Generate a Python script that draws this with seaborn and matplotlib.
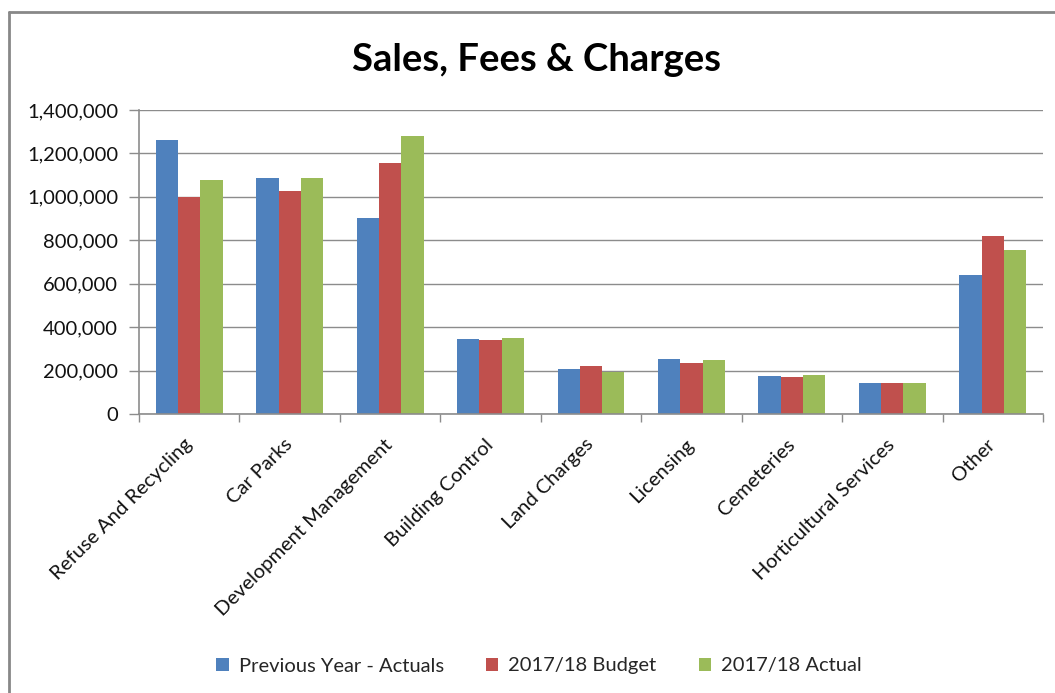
import matplotlib
matplotlib.use("Agg")
import matplotlib.pyplot as plt
from matplotlib.lines import Line2D
from matplotlib.patches import Patch
from matplotlib.ticker import FuncFormatter, FixedLocator
import numpy as np
import pandas as pd
import seaborn as sns

categories = [
    "Refuse And Recycling", "Car Parks", "Development Management",
    "Building Control", "Land Charges", "Licensing", "Cemeteries",
    "Horticultural Services", "Other",
]
series_names = ["Previous Year - Actuals", "2017/18 Budget", "2017/18 Actual"]
previous_actuals = [1260000, 1087000, 902000, 347000, 209000, 255000, 174000, 143000, 640000]
budget_2017 = [1000000, 1027000, 1154000, 342000, 220000, 235000, 169000, 143000, 818000]
actual_2017 = [1076000, 1087000, 1280000, 351000, 194000, 249000, 179000, 144000, 757000]
colors = ["#4F81BD", "#C0504D", "#9BBB59"]
yticks = [0, 200000, 400000, 600000, 800000, 1000000, 1200000, 1400000]

df = pd.DataFrame({
    "Category": categories * 3,
    "Series": [series_names[0]] * 9 + [series_names[1]] * 9 + [series_names[2]] * 9,
    "Value": previous_actuals + budget_2017 + actual_2017,
})

sns.set_theme(style="white")
plt.rcParams["font.family"] = ["Lato", "DejaVu Sans"]

fig = plt.figure(figsize=(10.55, 6.93), dpi=100)
ax = fig.add_axes([139 / 1055, 1 - 414 / 693, (1043 - 139) / 1055, (414 - 110) / 693])

sns.barplot(data=df, x="Category", y="Value", hue="Series", order=categories,
            hue_order=series_names, palette=colors, width=0.667, gap=0,
            saturation=1, edgecolor="none", linewidth=0, ax=ax, legend=False)

grid_c = "#8C8C8C"
ax.set_xlim(-0.5, len(categories) - 0.5)
ax.set_ylim(0, 1400000)
ax.yaxis.set_major_locator(FixedLocator(yticks))
ax.yaxis.set_major_formatter(FuncFormatter(lambda v, p: f"{int(v):,}"))
ax.grid(axis="y", color=grid_c, linewidth=1)
ax.set_axisbelow(True)
for s in ["top", "right"]:
    ax.spines[s].set_visible(False)
for s in ["left", "bottom"]:
    ax.spines[s].set_color(grid_c)
    ax.spines[s].set_linewidth(1.2)

ax.set_xlabel("")
ax.set_ylabel("")
ax.tick_params(axis="y", which="major", left=True, length=7, width=1, color=grid_c,
               labelsize=14.5, labelcolor="#111111", pad=8)
ax.tick_params(axis="x", which="major", bottom=False, labelsize=14.5, labelcolor="#111111", pad=14)
ax.set_xticks(np.arange(-0.5, len(categories)), minor=True)
ax.tick_params(axis="x", which="minor", bottom=True, length=6, width=1, color=grid_c)
for lab in ax.get_xticklabels():
    lab.set_rotation(45)
    lab.set_ha("right")
    lab.set_va("center")
    lab.set_rotation_mode("anchor")

fig.text(537 / 1055, 1 - 60 / 693, "Sales, Fees & Charges", ha="center", va="center",
         fontsize=27.5, fontweight="bold", color="black")

handles = [Patch(facecolor=c, edgecolor="none") for c in colors]
fig.legend(handles, series_names, loc="center", bbox_to_anchor=(539 / 1055, 1 - 666 / 693),
           ncol=3, frameon=False, fontsize=14.5, handlelength=0.6, handleheight=0.6,
           handletextpad=0.5, columnspacing=2.1)

# chart-area border along the top and left
fig.add_artist(Line2D([9 / 1055, 1.0], [1 - 12 / 693, 1 - 12 / 693], transform=fig.transFigure,
                      color="#888888", linewidth=2))
fig.add_artist(Line2D([9 / 1055, 9 / 1055], [0, 1 - 12 / 693], transform=fig.transFigure,
                      color="#888888", linewidth=2))

fig.savefig("out.png", dpi=100, facecolor="white")
